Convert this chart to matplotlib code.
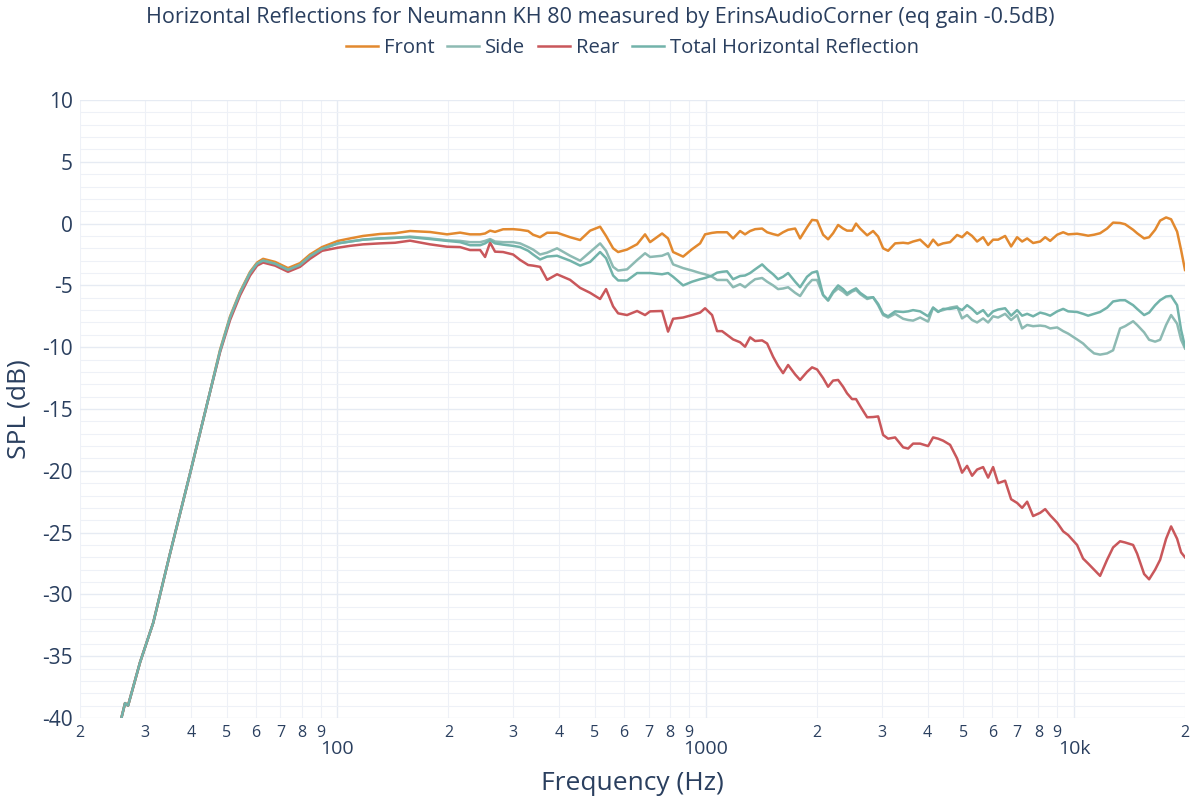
import matplotlib
matplotlib.use("Agg")
import matplotlib.pyplot as plt
from matplotlib.ticker import FixedLocator, FixedFormatter, NullFormatter

plt.rcParams['font.family'] = ['Open Sans', 'DejaVu Sans']
plt.rcParams['axes.unicode_minus'] = False

title = "Horizontal Reflections for Neumann KH 80 measured by ErinsAudioCorner (eq gain -0.5dB)"

freq = [25.8, 26.5, 27.0, 29.1, 31.6, 35.1, 39.8, 44.5, 48.0, 51.1, 54.4, 57.9, 60.5, 62.8,
        67.7, 73.4, 79.1, 84.2, 90.8, 100.3, 108.2, 117.3, 130.5, 143.3, 157.4, 178.4, 198.4,
        215.2, 229, 244, 251.6, 259.6, 267.8, 281.6, 299.8, 313.2, 329.4, 339.6, 354.8, 370.8,
        394.6, 428, 455.8, 485.2, 516.4, 536, 560.2, 578, 611.2, 650.8, 684, 705.8, 760.8,
        789.8, 815, 867.8, 917.8, 965, 995.4, 1040, 1073, 1107, 1142, 1186, 1239, 1278, 1319,
        1361, 1422, 1467, 1523, 1571, 1621, 1673, 1748, 1803, 1883, 1943, 2005, 2082, 2148,
        2216, 2287, 2359, 2418, 2495, 2558, 2624, 2742, 2846, 2937, 3030, 3126, 3266, 3434,
        3543, 3654, 3818, 4014, 4141, 4272, 4407, 4605, 4811, 4963, 5121, 5284, 5452, 5661,
        5841, 6026, 6218, 6496, 6744, 7002, 7225, 7455, 7739, 8087, 8344, 8609, 8995, 9339,
        9635, 10186, 10577, 10914, 11328, 11762, 12288, 12759, 13330, 13754, 14459, 14826,
        15490, 15980, 16592, 17119, 17770, 18335, 19038, 19518, 20000]

front = [-40.2, -38.8, -39.0, -35.5, -32.3, -26.7, -20.2, -14.3, -10.2, -7.5, -5.5, -3.9, -3.15, -2.85,
         -3.1, -3.6, -3.2, -2.5, -1.9, -1.4, -1.2, -1.0, -0.84, -0.78, -0.6, -0.68, -0.87,
         -0.73, -0.87, -0.87, -0.8, -0.57, -0.67, -0.46, -0.45, -0.5, -0.6, -0.9, -1.1, -0.74,
         -0.74, -1.1, -1.33, -0.57, -0.25, -1.0, -2.0, -2.3, -2.1, -1.67, -0.87, -1.5, -0.8,
         -1.2, -2.3, -2.67, -2.07, -1.6, -0.87, -0.75, -0.7, -0.7, -0.7, -1.2, -0.6, -0.87, -0.6,
         -0.45, -0.4, -0.7, -0.85, -0.95, -0.7, -0.5, -0.4, -1.2, -0.3, 0.3, 0.25, -0.9, -1.27,
         -0.78, -0.11, -0.4, -0.57, -0.57, 0.0, -0.4, -0.95, -0.6, -1.05, -2.0, -2.2, -1.6, -1.55,
         -1.6, -1.45, -1.3, -1.9, -1.3, -1.75, -1.6, -1.5, -0.92, -1.1, -0.7, -1.0, -1.45, -1.1,
         -1.73, -1.3, -1.3, -1.0, -1.85, -1.1, -1.45, -1.2, -1.57, -1.45, -1.1, -1.4, -0.9, -0.7,
         -0.87, -0.82, -0.9, -0.98, -0.9, -0.78, -0.4, 0.08, 0.05, -0.05, -0.5, -0.78,
         -1.2, -1.1, -0.5, 0.24, 0.5, 0.35, -0.65, -2.14, -3.75]

side = [-40.2, -38.8, -39.0, -35.5, -32.3, -26.7, -20.2, -14.3, -10.3, -7.6, -5.6, -4.0, -3.25, -3.0,
        -3.25, -3.75, -3.35, -2.65, -2.05, -1.6, -1.45, -1.3, -1.2, -1.15, -1.05, -1.2, -1.35,
        -1.4, -1.5, -1.5, -1.4, -1.25, -1.45, -1.5, -1.5, -1.6, -1.9, -2.1, -2.5, -2.35,
        -2.0, -2.6, -3.0, -2.3, -1.6, -2.2, -3.5, -3.8, -3.7, -2.95, -2.4, -2.7, -2.6,
        -2.4, -3.3, -3.6, -3.8, -4.0, -4.1, -4.3, -4.56, -4.56, -4.56, -5.15, -4.9, -5.15, -4.8,
        -4.5, -4.4, -4.7, -5.0, -5.3, -5.25, -5.15, -5.6, -5.86, -5.0, -4.56, -4.56, -5.78, -6.24,
        -5.6, -5.24, -5.5, -5.78, -5.5, -5.37, -5.7, -6.1, -5.96, -6.6, -7.4, -7.6, -7.3, -7.7,
        -7.8, -7.85, -7.6, -7.93, -6.8, -7.1, -7.0, -6.8, -6.7, -7.67, -7.4, -7.8, -8.0, -7.67,
        -8.0, -7.5, -7.6, -7.3, -7.8, -7.4, -8.48, -8.2, -8.3, -8.25, -8.3, -8.48, -8.4, -8.7,
        -8.9, -9.37, -9.7, -10.1, -10.5, -10.6, -10.5, -10.25, -8.48, -8.3, -7.9, -8.2,
        -8.8, -9.4, -9.55, -9.4, -8.2, -7.4, -8.1, -9.4, -10.1]

rear = [-40.2, -38.8, -39.0, -35.5, -32.3, -26.7, -20.2, -14.3, -10.4, -7.8, -5.8, -4.2, -3.4, -3.15,
        -3.4, -3.9, -3.5, -2.85, -2.2, -1.95, -1.8, -1.68, -1.6, -1.55, -1.38, -1.68, -1.87,
        -1.9, -2.14, -2.14, -2.7, -1.54, -2.27, -2.3, -2.5, -2.94, -3.35, -3.4, -3.5, -4.55,
        -4.1, -4.55, -5.2, -5.6, -6.1, -5.3, -6.7, -7.26, -7.4, -7.07, -7.4, -7.1, -7.07,
        -8.74, -7.7, -7.6, -7.4, -7.2, -6.85, -7.4, -8.7, -8.7, -9.0, -9.37, -9.6, -9.96, -9.2,
        -9.5, -9.45, -9.7, -10.77, -11.5, -12.1, -11.44, -12.2, -12.65, -12.0, -11.63, -11.8, -12.5, -13.2,
        -12.7, -12.65, -13.2, -13.73, -14.2, -14.2, -14.76, -15.67, -15.65, -15.6, -17.1, -17.4, -17.3, -18.1,
        -18.2, -17.8, -17.8, -18.0, -17.3, -17.4, -17.56, -17.9, -19.0, -20.15, -19.6, -20.4, -19.9, -19.7,
        -20.55, -19.7, -21.0, -20.8, -22.3, -22.6, -23.0, -22.5, -23.66, -23.4, -23.1, -23.6, -24.2, -24.9,
        -25.2, -26.0, -27.1, -27.5, -28.0, -28.5, -27.2, -26.2, -25.7, -25.8, -26.0, -26.7,
        -28.35, -28.78, -28.0, -27.2, -25.5, -24.5, -25.5, -26.6, -27.0]

total = [-40.2, -38.8, -39.0, -35.5, -32.3, -26.7, -20.2, -14.3, -10.3, -7.6, -5.6, -4.0, -3.25, -3.0,
         -3.25, -3.75, -3.35, -2.65, -2.05, -1.6, -1.45, -1.3, -1.2, -1.15, -1.1, -1.25, -1.4,
         -1.5, -1.75, -1.75, -1.6, -1.35, -1.6, -1.7, -1.8, -1.9, -2.2, -2.5, -2.9, -2.67,
         -2.6, -3.0, -3.4, -3.1, -2.3, -2.8, -4.2, -4.6, -4.6, -4.0, -4.0, -4.0, -4.1,
         -4.0, -4.3, -5.0, -4.7, -4.5, -4.4, -4.2, -3.97, -3.9, -3.86, -4.5, -4.24, -4.2, -4.0,
         -3.7, -3.3, -3.7, -4.1, -4.5, -4.3, -4.0, -4.7, -5.15, -4.3, -3.97, -3.86, -5.78, -6.18,
         -5.5, -5.0, -5.3, -5.64, -5.4, -5.24, -5.6, -6.0, -5.96, -6.5, -7.3, -7.5, -7.1, -7.15,
         -7.1, -7.0, -7.1, -7.5, -6.8, -7.15, -6.9, -6.9, -6.8, -7.0, -6.6, -6.9, -7.3, -7.0,
         -7.5, -7.1, -6.95, -6.85, -7.45, -7.0, -7.45, -7.3, -7.5, -7.2, -7.3, -7.45, -7.1, -6.9,
         -7.1, -7.15, -7.3, -7.45, -7.3, -7.15, -6.8, -6.3, -6.2, -6.2, -6.6, -6.9,
         -7.4, -7.2, -6.6, -6.2, -5.9, -5.85, -6.6, -8.6, -9.96]

text_color = '#2a3f5f'
fig = plt.figure(figsize=(12, 8), dpi=100)
ax = fig.add_axes([0.0667, 0.1025, 0.9208, 0.7725])

ax.plot(freq, front, color='#e2892f', lw=1.8, label='Front')
ax.plot(freq, side, color='#8dbab3', lw=1.8, label='Side')
ax.plot(freq, rear, color='#c9575b', lw=1.8, label='Rear')
ax.plot(freq, total, color='#72b3aa', lw=1.8, label='Total Horizontal Reflection')

ax.set_xscale('log')
ax.set_xlim(20, 20000)
ax.set_ylim(-40, 10)

for s in ax.spines.values():
    s.set_visible(False)

major_x = [100, 1000, 10000]
minor_x = [m * d for d in (10, 100, 1000) for m in range(2, 10)] + [20000]
ax.xaxis.set_major_locator(FixedLocator(major_x))
ax.xaxis.set_major_formatter(FixedFormatter(['100', '1000', '10k']))
ax.xaxis.set_minor_locator(FixedLocator(minor_x))
ax.xaxis.set_minor_formatter(FixedFormatter([str(int(str(v)[0])) for v in minor_x]))
ax.tick_params(axis='x', which='major', length=0, pad=16, labelsize=14, labelcolor=text_color)
ax.tick_params(axis='x', which='minor', length=0, pad=5, labelsize=11.5, labelcolor=text_color)

ax.set_yticks(range(-40, 11, 5))
ax.set_yticks(range(-40, 11, 1), minor=True)
ax.yaxis.set_minor_formatter(NullFormatter())
ax.tick_params(axis='y', which='both', length=0, pad=5, labelsize=15, labelcolor=text_color)

ax.grid(True, which='major', color='#e6ebf3', lw=1)
ax.grid(True, which='minor', color='#eef1f7', lw=0.8)
ax.set_axisbelow(True)

ax.set_xlabel('Frequency (Hz)', fontsize=19, color=text_color, labelpad=9)
ax.set_ylabel('SPL (dB)', fontsize=19, color=text_color, labelpad=8)

fig.text(0.5, 0.978, title, ha='center', va='center', fontsize=15.5, color=text_color)
fig.legend(loc='center', bbox_to_anchor=(0.527, 0.94), ncol=4, frameon=False,
           fontsize=14.6, handlelength=1.6, handletextpad=0.3, columnspacing=0.6,
           labelcolor=text_color)

fig.savefig('out.png', dpi=100, facecolor='white')
